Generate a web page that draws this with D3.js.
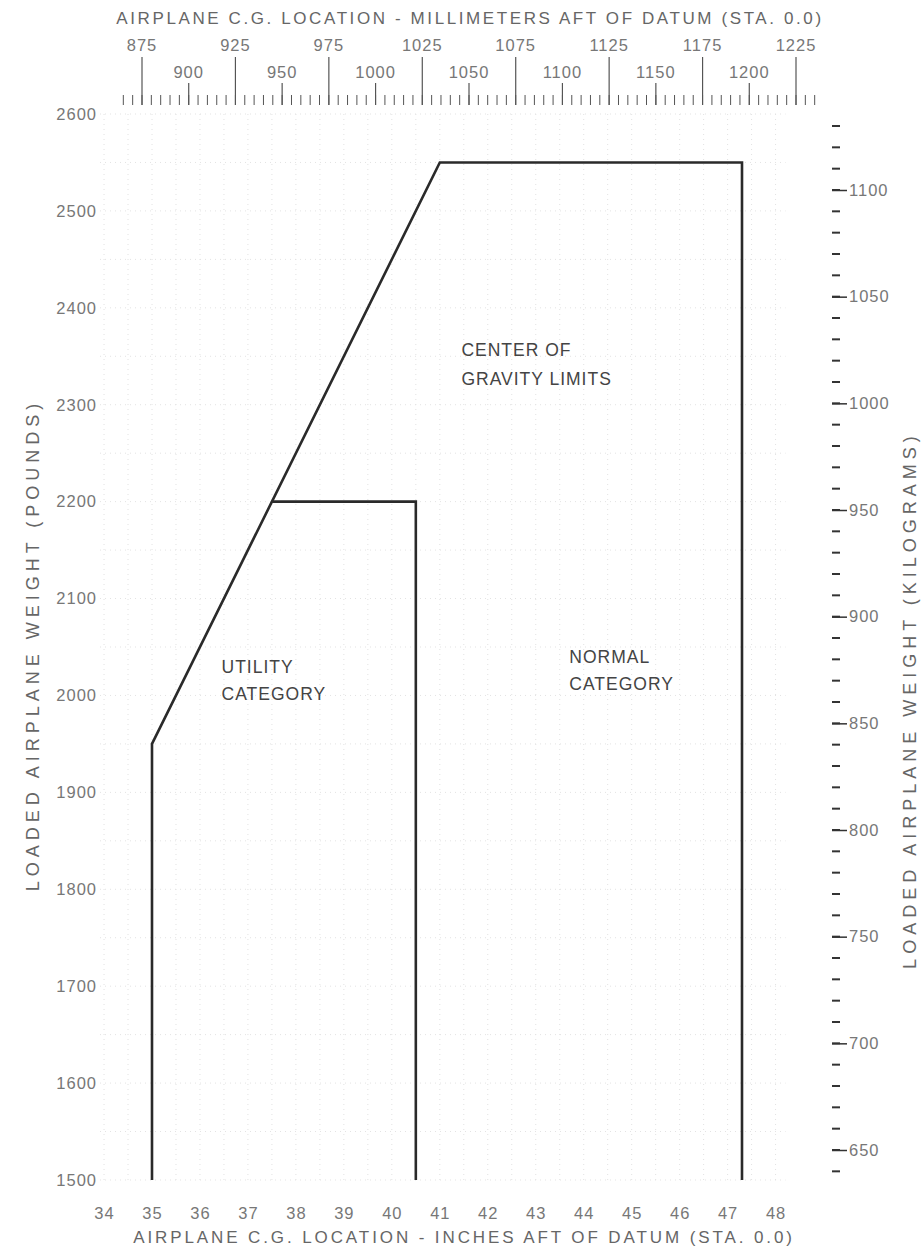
<!DOCTYPE html>
<html>
<head>
<meta charset="utf-8">
<script src="https://cdn.jsdelivr.net/npm/d3@7"></script>
<style>
body { margin:0; background:#fff; }
text { font-family: "Liberation Sans", Arial, sans-serif; }
.ax text { fill:#777; font-size:16.5px; letter-spacing:1px; }
.ttl { fill:#666; font-size:17px; letter-spacing:2.6px; }
.vttl { fill:#666; font-size:18px; letter-spacing:5px; }
.note { fill:#444; font-size:17.5px; letter-spacing:1px; }
</style>
</head>
<body>
<script>
// envelope points (inches aft of datum, pounds)
var normalEnv = [[35.0,1500],[35.0,1950],[41.0,2550],[47.3,2550],[47.3,1500]];
var utilityEnv = [[37.5,2200],[40.5,2200],[40.5,1500]];
var inchTicks = [34,35,36,37,38,39,40,41,42,43,44,45,46,47,48];
var lbTicks = [1500,1600,1700,1800,1900,2000,2100,2200,2300,2400,2500,2600];
var kgTicks = [650,700,750,800,850,900,950,1000,1050,1100];
var mmTicksUpper = [875,925,975,1025,1075,1125,1175,1225];
var mmTicksLower = [900,950,1000,1050,1100,1150,1200];

var width = 923, height = 1252;
var svg = d3.select("body").append("svg").attr("width",width).attr("height",height);

var x = d3.scaleLinear().domain([35,47.3]).range([152,742]);
var y = d3.scaleLinear().domain([1500,2600]).range([1180,114]);
var yKg = d3.scaleLinear().domain([650,1100]).range([1150,190]);
var xMm = d3.scaleLinear().domain([875,1225]).range([142,796]);
var fmt = d3.format("d");

// faint dotted grid
var grid = svg.append("g").attr("stroke","#e2e2e2").attr("stroke-dasharray","1,4");
grid.selectAll("line.v").data(d3.range(34,48.5,0.5)).enter().append("line")
  .attr("x1",d=>x(d)).attr("x2",d=>x(d)).attr("y1",y(2600)).attr("y2",y(1500));
grid.selectAll("line.h").data(d3.range(1500,2601,50)).enter().append("line")
  .attr("x1",x(34)-4).attr("x2",x(48)+10).attr("y1",d=>y(d)).attr("y2",d=>y(d));

// top millimeter scale
var topG = svg.append("g").attr("stroke","#555");
topG.selectAll("line.s").data(d3.range(865,1236,5)).enter().append("line")
  .attr("x1",d=>xMm(d)).attr("x2",d=>xMm(d)).attr("y1",95).attr("y2",105).attr("stroke-width",1);
topG.selectAll("line.m").data(mmTicksLower).enter().append("line")
  .attr("x1",d=>xMm(d)).attr("x2",d=>xMm(d)).attr("y1",83).attr("y2",105).attr("stroke-width",1.2);
topG.selectAll("line.l").data(mmTicksUpper).enter().append("line")
  .attr("x1",d=>xMm(d)).attr("x2",d=>xMm(d)).attr("y1",57).attr("y2",105).attr("stroke-width",1.2);
var topTxt = svg.append("g").attr("class","ax");
topTxt.selectAll("text.u").data(mmTicksUpper).enter().append("text")
  .attr("x",d=>xMm(d)).attr("y",51).attr("text-anchor","middle").text(d=>d);
topTxt.selectAll("text.l").data(mmTicksLower).enter().append("text")
  .attr("x",d=>xMm(d)).attr("y",78).attr("text-anchor","middle").text(d=>d);

// left pounds labels
svg.append("g").attr("class","ax").attr("transform","translate(97,0)")
  .call(d3.axisLeft(y).tickValues(lbTicks).tickFormat(fmt).tickSize(0).tickPadding(0))
  .call(g=>g.select(".domain").remove());

// bottom inch labels
svg.append("g").attr("class","ax").attr("transform","translate(0,1207)")
  .call(d3.axisBottom(x).tickValues(inchTicks).tickFormat(fmt).tickSize(0).tickPadding(0))
  .call(g=>g.select(".domain").remove())
  .call(g=>g.selectAll("text").attr("fill","#999"));

// right kilogram axis
var kgAx = svg.append("g").attr("class","ax").attr("transform","translate(832,0)");
kgAx.selectAll("line.minor").data(d3.range(640,1131,10)).enter().append("line")
  .attr("x1",0).attr("x2",8).attr("y1",d=>yKg(d)).attr("y2",d=>yKg(d))
  .attr("stroke","#333").attr("stroke-width",2);
kgAx.call(d3.axisRight(yKg).tickValues(kgTicks).tickFormat(fmt).tickSize(15).tickPadding(2))
  .call(g=>g.select(".domain").remove())
  .call(g=>g.selectAll(".tick line").attr("stroke","#333").attr("stroke-width",1.5));

// envelope lines
var line = d3.line().x(d=>x(d[0])).y(d=>y(d[1]));
svg.append("path").datum(normalEnv).attr("d",line)
  .attr("fill","none").attr("stroke","#2a2a2a").attr("stroke-width",2.6);
svg.append("path").datum(utilityEnv).attr("d",line)
  .attr("fill","none").attr("stroke","#2a2a2a").attr("stroke-width",2.6);

// notes
function note(lines, xv, yv, gap) {
  var t = svg.append("text").attr("class","note");
  lines.forEach(function(s,i){
    t.append("tspan").attr("x",x(xv)).attr("y",y(yv)+i*gap).text(s);
  });
}
note(["CENTER OF","GRAVITY LIMITS"], 41.45, 2350, 29);
note(["UTILITY","CATEGORY"], 36.45, 2023, 27);
note(["NORMAL","CATEGORY"], 43.7, 2033, 27);

// axis titles
svg.append("text").attr("class","ttl").attr("x",470).attr("y",24).attr("text-anchor","middle")
  .text("AIRPLANE C.G. LOCATION - MILLIMETERS AFT OF DATUM (STA. 0.0)");
svg.append("text").attr("class","ttl").attr("x",464).attr("y",1243).attr("text-anchor","middle")
  .style("letter-spacing","2.9px")
  .text("AIRPLANE C.G. LOCATION - INCHES AFT OF DATUM (STA. 0.0)");
svg.append("text").attr("class","vttl").attr("transform","translate(39,645) rotate(-90)")
  .attr("text-anchor","middle").text("LOADED AIRPLANE WEIGHT (POUNDS)");
svg.append("text").attr("class","vttl").attr("transform","translate(916,700) rotate(-90)")
  .attr("text-anchor","middle").text("LOADED AIRPLANE WEIGHT (KILOGRAMS)");
</script>
</body>
</html>
